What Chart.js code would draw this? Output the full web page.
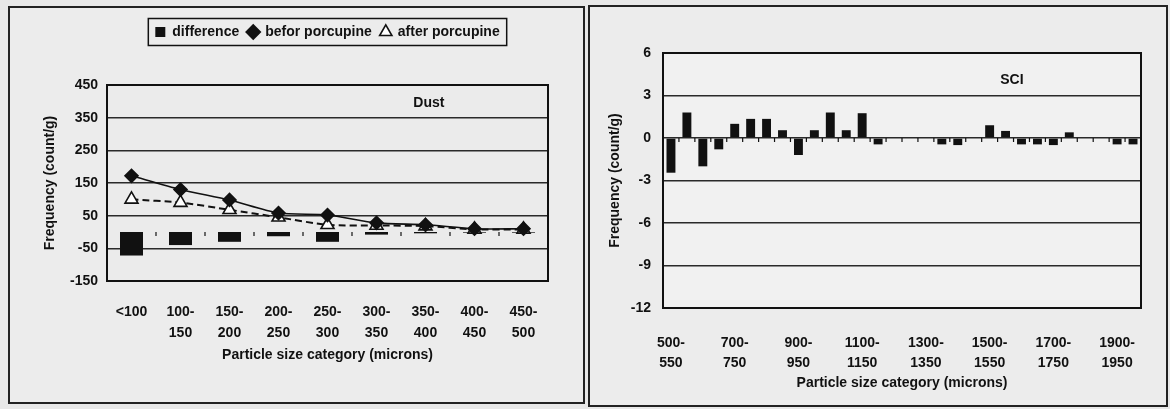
<!DOCTYPE html>
<html>
<head>
<meta charset="utf-8">
<script src="https://cdn.jsdelivr.net/npm/chart.js@4.4.0/dist/chart.umd.min.js"></script>
<style>
  body { margin: 0; background: #e8e8e8; width: 1170px; height: 409px; overflow: hidden; position: relative; }
  .panel { position: absolute; border: 2px solid #222; background: #ececec; }
  #p1 { left: 8px; top: 6px; width: 573px; height: 394px; }
  #p2 { left: 588px; top: 5px; width: 576px; height: 398px; }
  canvas { display: block; }
</style>
</head>
<body>
<div class="panel" id="p1"><canvas id="dust" width="573" height="394"></canvas></div>
<div class="panel" id="p2"><canvas id="sci" width="576" height="398"></canvas></div>
<script>
// left panel - dust
const dustLabels = ['<100', ['100-', '150'], ['150-', '200'], ['200-', '250'], ['250-', '300'],
  ['300-', '350'], ['350-', '400'], ['400-', '450'], ['450-', '500']];
const dustDifference = [-72, -40, -30, -13, -30, -8, -4, -2, -2];
const dustBefore = [172, 130, 98, 58, 52, 28, 22, 10, 10];
const dustAfter = [100, 90, 68, 45, 22, 20, 18, 8, 8];
const dustTicks = [-150, -50, 50, 150, 250, 350, 450];

// right panel - SCI
const sciLabels = [['500-', '550'], ['550-', '600'], ['600-', '650'], ['650-', '700'], ['700-', '750'],
  ['750-', '800'], ['800-', '850'], ['850-', '900'], ['900-', '950'], ['950-', '1000'],
  ['1000-', '1050'], ['1050-', '1100'], ['1100-', '1150'], ['1150-', '1200'], ['1200-', '1250'],
  ['1250-', '1300'], ['1300-', '1350'], ['1350-', '1400'], ['1400-', '1450'], ['1450-', '1500'],
  ['1500-', '1550'], ['1550-', '1600'], ['1600-', '1650'], ['1650-', '1700'], ['1700-', '1750'],
  ['1750-', '1800'], ['1800-', '1850'], ['1850-', '1900'], ['1900-', '1950'], ['1950-', '2000']];
const sciValues = [-2.45, 1.8, -2.0, -0.8, 1.0, 1.35, 1.35, 0.55, -1.2, 0.55,
  1.8, 0.55, 1.75, -0.45, 0, 0, 0, -0.45, -0.5, 0,
  0.9, 0.5, -0.45, -0.45, -0.5, 0.4, 0, 0, -0.45, -0.45];
const sciTicks = [-12, -9, -6, -3, 0, 3, 6];

const FONT = 'Liberation Sans, Arial, sans-serif';
const FS = 14;
const ink = '#111';

// plot frame, little ticks on the zero line, corner label
const framePlugin = {
  id: 'frame',
  beforeDraw(chart, args, opts) {
    const a = chart.chartArea, ctx = chart.ctx;
    ctx.save();
    ctx.fillStyle = opts.bg;
    ctx.fillRect(a.left, a.top, a.right - a.left, a.bottom - a.top);
    ctx.restore();
  },
  afterDraw(chart, args, opts) {
    const a = chart.chartArea, ctx = chart.ctx;
    const xs = chart.scales.x, ys = chart.scales.y;
    ctx.save();
    ctx.strokeStyle = ink;
    ctx.lineWidth = 2;
    ctx.strokeRect(a.left, a.top, a.right - a.left, a.bottom - a.top);
    // zero line ticks
    const y0 = ys.getPixelForValue(0);
    ctx.lineWidth = 1.2;
    const n = chart.data.labels.length;
    for (let i = 0; i <= n; i++) {
      const x = i === 0 ? a.left : i === n ? a.right
        : (xs.getPixelForValue(i - 1) + xs.getPixelForValue(i)) / 2;
      ctx.beginPath();
      ctx.moveTo(x, y0);
      ctx.lineTo(x, y0 + 4);
      ctx.stroke();
    }
    ctx.fillStyle = ink;
    ctx.font = 'bold ' + FS + 'px ' + FONT;
    ctx.textAlign = 'center';
    ctx.textBaseline = 'middle';
    ctx.fillText(opts.text, a.left + (a.right - a.left) * opts.fx, a.top + opts.dy);
    ctx.restore();
  }
};

// box round the legend
const legendBox = {
  id: 'legendBox',
  beforeInit(chart) {
    if (!chart.legend) return;
    const fit = chart.legend.fit;
    chart.legend.fit = function () {
      fit.call(this);
      this.height += 36;
    };
  },
  afterDraw(chart) {
    const lg = chart.legend;
    if (!lg || !lg.legendHitBoxes || !lg.legendHitBoxes.length) return;
    const hb = lg.legendHitBoxes;
    const first = hb[0], last = hb[hb.length - 1];
    const cy = first.top + first.height / 2;
    const ctx = chart.ctx;
    ctx.save();
    ctx.strokeStyle = ink;
    ctx.lineWidth = 1.5;
    ctx.strokeRect(first.left - 7, cy - 13.5, last.left + last.width - first.left + 14, 27);
    ctx.restore();
  }
};

function yAxis(min, max, ticks, width, titlePad, tickPad) {
  return {
    min: min, max: max,
    afterFit(s) { s.width = width; },
    afterBuildTicks(s) { s.ticks = ticks.map(v => ({ value: v })); },
    border: { display: false },
    grid: { color: '#2a2a2a', lineWidth: 1.4, drawTicks: false },
    ticks: { color: ink, padding: tickPad, font: { family: FONT, size: FS, weight: 'bold' } },
    title: {
      display: true, text: 'Frequency (count/g)', color: ink,
      padding: { top: titlePad, bottom: 0 },
      font: { family: FONT, size: FS, weight: 'bold', lineHeight: 1.2 }
    }
  };
}

new Chart(document.getElementById('dust'), {
  data: {
    labels: dustLabels,
    datasets: [
      {
        type: 'line', label: 'befor porcupine', data: dustBefore, order: 1,
        borderColor: ink, borderWidth: 1.6, tension: 0.25,
        pointStyle: 'rectRot', pointRadius: 6.5, pointBackgroundColor: ink, pointBorderColor: ink
      },
      {
        type: 'line', label: 'after porcupine', data: dustAfter, order: 2,
        borderColor: ink, borderWidth: 2, borderDash: [7, 4], tension: 0.25,
        pointStyle: 'triangle', pointRadius: 7.5, pointBorderWidth: 1.6,
        pointBackgroundColor: '#fff', pointBorderColor: ink
      },
      {
        type: 'bar', label: 'difference', data: dustDifference, order: 3,
        backgroundColor: ink, pointStyle: 'rect',
        barPercentage: 0.47, categoryPercentage: 1
      }
    ]
  },
  options: {
    responsive: false,
    animation: false,
    devicePixelRatio: 1,
    layout: { padding: { left: 0, right: 35, top: 8, bottom: 0 } },
    plugins: {
      legend: {
        position: 'top', fullSize: false,
        labels: {
          usePointStyle: true, boxWidth: 10, boxHeight: 10, padding: 9, color: ink,
          font: { family: FONT, size: FS, weight: 'bold' },
          sort: (a, b) => [2, 0, 1].indexOf(a.datasetIndex) - [2, 0, 1].indexOf(b.datasetIndex)
        }
      },
      tooltip: { enabled: false },
      frame: { text: 'Dust', fx: 0.73, dy: 18, bg: '#ebebeb' }
    },
    scales: {
      x: {
        afterFit(s) { s.height = 121; },
        border: { display: false },
        grid: { display: false },
        ticks: {
          color: ink, padding: 13, maxRotation: 0, autoSkip: false,
          font: { family: FONT, size: FS, weight: 'bold', lineHeight: 1.5 }
        },
        title: {
          display: true, text: 'Particle size category (microns)', color: ink,
          padding: { top: 0, bottom: 38 },
          font: { family: FONT, size: FS, weight: 'bold', lineHeight: 1.2 }
        }
      },
      y: yAxis(-150, 450, dustTicks, 97, 32, 9)
    }
  },
  plugins: [framePlugin, legendBox]
});

new Chart(document.getElementById('sci'), {
  type: 'bar',
  data: {
    labels: sciLabels,
    datasets: [{
      label: 'SCI', data: sciValues, backgroundColor: ink,
      barPercentage: 0.56, categoryPercentage: 1
    }]
  },
  options: {
    responsive: false,
    animation: false,
    devicePixelRatio: 1,
    layout: { padding: { left: 0, right: 25, top: 46, bottom: 0 } },
    plugins: {
      legend: { display: false },
      tooltip: { enabled: false },
      frame: { text: 'SCI', fx: 0.73, dy: 27, bg: '#f1f1f1' }
    },
    scales: {
      x: {
        afterFit(s) { s.height = 97; },
        border: { display: false },
        grid: { display: false },
        ticks: {
          color: ink, padding: 17, maxRotation: 0, autoSkip: false,
          font: { family: FONT, size: FS, weight: 'bold', lineHeight: 1.45 },
          callback(v, i) { return i % 4 === 0 ? this.getLabelForValue(v) : ''; }
        },
        title: {
          display: true, text: 'Particle size category (microns)', color: ink,
          padding: { top: 0, bottom: 13 },
          font: { family: FONT, size: FS, weight: 'bold', lineHeight: 1.2 }
        }
      },
      y: yAxis(-12, 6, sciTicks, 73, 17, 12)
    }
  },
  plugins: [framePlugin]
});
</script>
</body>
</html>
